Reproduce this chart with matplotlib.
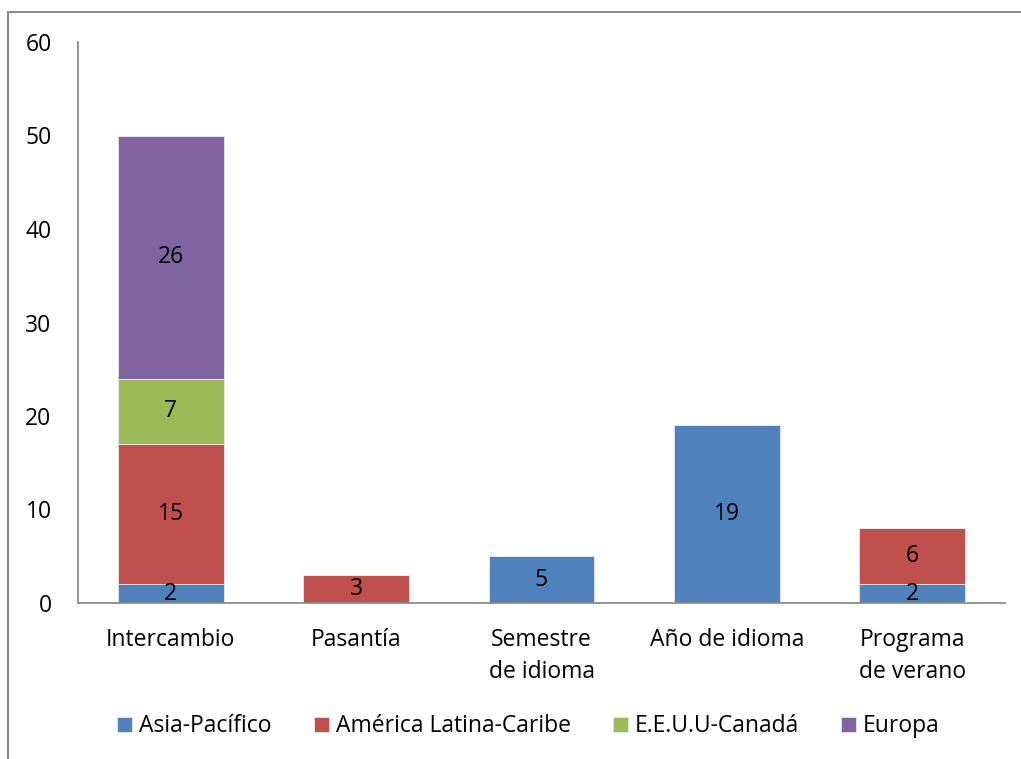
import numpy as np
import matplotlib.pyplot as plt
from matplotlib.patches import Rectangle

plt.rcParams['font.family'] = ['Open Sans', 'DejaVu Sans']

categorias = ["Intercambio", "Pasantía", "Semestre\nde idioma", "Año de idioma", "Programa\nde verano"]
series = ["Asia-Pacífico", "América Latina-Caribe", "E.E.U.U-Canadá", "Europa"]
asia = [2, 0, 5, 19, 2]
america = [15, 3, 0, 0, 6]
eeuu = [7, 0, 0, 0, 0]
europa = [26, 0, 0, 0, 0]
colores = ["#4F81BD", "#C0504D", "#9BBB59", "#8064A2"]

fs = 16.5

fig = plt.figure(figsize=(10.21, 7.59), dpi=100)
ax = fig.add_axes([78 / 1021, 1 - 603 / 759, 927 / 1021, 561 / 759])

# marco del gráfico (solo se ven izquierda y arriba)
fig.patches.append(Rectangle((8 / 1021, -0.1), 1.2, 1 - 12 / 759 + 0.1,
                             transform=fig.transFigure, fill=False,
                             edgecolor="#8c8c8c", linewidth=1.5))

x = np.arange(len(categorias))
base = np.zeros(len(categorias))
for nombre, vals, col in zip(series, [asia, america, eeuu, europa], colores):
    vals = np.array(vals, dtype=float)
    ax.bar(x, vals, 0.57, bottom=base, color=col, label=nombre,
           edgecolor="#e8e8e8", linewidth=0.6)
    for xi, b, v in zip(x, base, vals):
        if v > 0:
            ax.text(xi, b + v / 2, f"{int(v)}", ha="center", va="center",
                    fontsize=fs, color="black")
    base += vals

ax.set_xlim(-0.5, 4.5)
ax.set_ylim(0, 60)
ax.set_yticks(range(0, 61, 10))
ax.set_xticks(x)
ax.set_xticklabels(categorias, fontsize=fs, linespacing=1.45)
ax.tick_params(axis="y", length=0, labelsize=fs, pad=19)
ax.tick_params(axis="x", length=0, pad=18)
for s in ["top", "right"]:
    ax.spines[s].set_visible(False)
for s in ["left", "bottom"]:
    ax.spines[s].set_color("#8c8c8c")
    ax.spines[s].set_linewidth(1.3)

ax.legend(loc="center", bbox_to_anchor=(0.486, -0.22), ncol=4, frameon=False,
          fontsize=fs, handlelength=0.65, handleheight=0.65, handletextpad=0.3,
          columnspacing=1.85)

fig.savefig("out.png", dpi=100)
